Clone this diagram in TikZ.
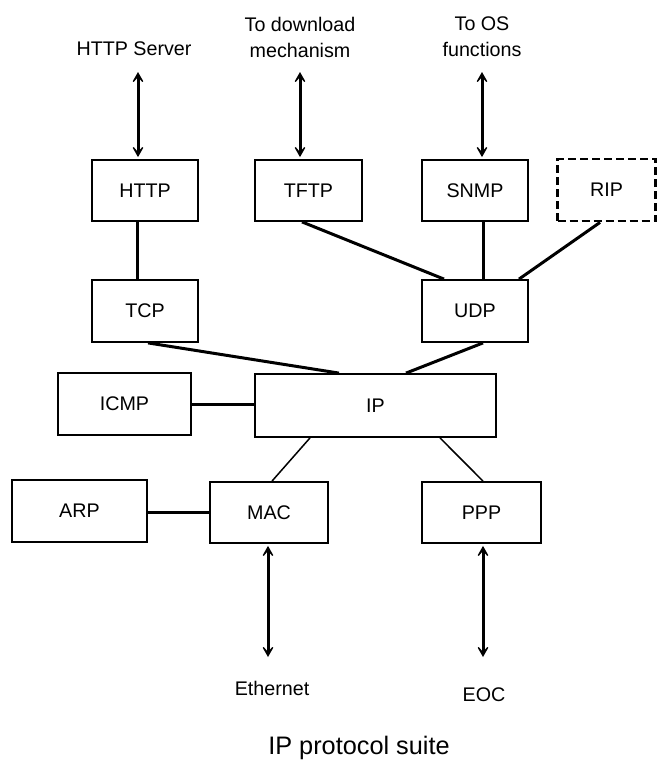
\documentclass[tikz,border=0pt]{standalone}
\usepackage{fontspec}
\setmainfont{Liberation Sans}
\usetikzlibrary{arrows.meta}
\begin{document}
\begin{tikzpicture}[x=1pt,y=1pt,
  box/.style={draw, line width=1.8pt, minimum height=61pt, inner sep=0pt,
    font=\fontsize{19.7}{24}\selectfont},
  ripbox/.style={box, line width=2.8pt, dash pattern=on 8pt off 4pt},
  lbl/.style={align=center, inner sep=0pt, font=\fontsize{19.7}{26}\selectfont},
  thickln/.style={line width=3pt},
  thinln/.style={line width=1.5pt},
  arr/.style={line width=3pt,
    {Stealth[length=15pt,width=17pt,inset=10pt]}-{Stealth[length=15pt,width=17pt,inset=10pt]}}
]
\useasboundingbox (0,0) rectangle (658,-760);

% boxes
\node[box, minimum width=106pt] (http) at (145,-190.5) {HTTP};
\node[box, minimum width=107pt] (tftp) at (308.5,-190.5) {TFTP};
\node[box, minimum width=106pt] (snmp) at (475,-190.5) {SNMP};
\node[ripbox, minimum width=98pt, minimum height=62pt] (rip) at (606.5,-190) {\raisebox{-3pt}{RIP}};
\node[box, minimum width=106pt, minimum height=62pt] (tcp) at (145,-311) {TCP};
\node[box, minimum width=106pt, minimum height=62pt] (udp) at (475,-311) {UDP};
\node[box, minimum width=133pt, minimum height=62pt] (icmp) at (124.5,-404) {ICMP};
\node[box, minimum width=241pt, minimum height=63pt] (ip) at (375.5,-405.5) {IP};
\node[box, minimum width=135pt, minimum height=62pt] (arp) at (79.5,-511) {ARP};
\node[box, minimum width=118pt] (mac) at (269,-512.5) {MAC};
\node[box, minimum width=119pt] (ppp) at (481.5,-512.5) {PPP};

% labels
\node[lbl] (hsrv) at (134,-49) {HTTP Server};
\node[lbl] (dl) at (300,-37) {To download\\mechanism};
\node[lbl] (os) at (482,-37) {To OS\\functions};
\node[lbl] (eth) at (272,-688) {Ethernet};
\node[lbl] (eoc) at (484,-695) {EOC};
\node[inner sep=0pt, font=\fontsize{25.3}{30}\selectfont] (title) at (359,-748) {IP protocol suite};

% free ends of arrows
\coordinate (ahs) at (138,-72);
\coordinate (adl) at (300,-72);
\coordinate (aos) at (482,-72);
\coordinate (aeth) at (268,-657);
\coordinate (aeoc) at (483,-657);

% arrows
\draw[arr] (ahs) -- ([yshift=2pt]ahs |- http.north);
\draw[arr] (adl) -- ([yshift=2pt]adl |- tftp.north);
\draw[arr] (aos) -- ([yshift=2pt]aos |- snmp.north);
\draw[arr] ([yshift=-2pt]aeth |- mac.south) -- (aeth);
\draw[arr] ([yshift=-2pt]aeoc |- ppp.south) -- (aeoc);

% connectors
\draw[thickln] ([xshift=-8pt]http.south) -- ([xshift=-8pt]tcp.north);
\draw[thickln] ([xshift=-6.5pt]tftp.south) -- ([xshift=-31pt]udp.north);
\draw[thickln] ([xshift=8pt]snmp.south) -- ([xshift=8pt]udp.north);
\draw[thickln] ([xshift=-6.5pt]rip.south) -- ([xshift=44pt]udp.north);
\draw[thickln] ([xshift=3pt]tcp.south) -- ([xshift=-36.5pt]ip.north);
\draw[thickln] ([xshift=8pt]udp.south) -- ([xshift=30.5pt]ip.north);
\draw[thickln] (icmp.east) -- (icmp.east -| ip.west);
\draw[thinln] ([xshift=-65.5pt]ip.south) -- ([xshift=3pt]mac.north);
\draw[thinln] ([xshift=64.5pt]ip.south) -- ([xshift=1.5pt]ppp.north);
\draw[thickln] ([yshift=-1pt]arp.east) -- ([yshift=-1pt]arp.east -| mac.west);
\end{tikzpicture}
\end{document}
